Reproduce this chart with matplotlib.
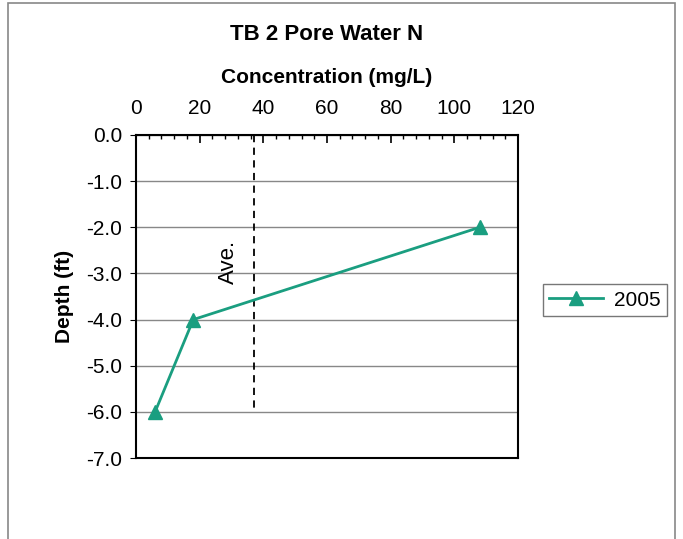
import matplotlib.pyplot as plt
from matplotlib.patches import Rectangle
from matplotlib.ticker import MultipleLocator

# data
conc = [108, 18, 6]
depth = [-2.0, -4.0, -6.0]
ave_conc = 37
ave_depth = [0.0, -6.0]
series_label = '2005'
teal = '#1a9e80'

plt.rcParams['font.family'] = ['Liberation Sans', 'DejaVu Sans']

fig = plt.figure(figsize=(6.83, 5.39), dpi=100)
ax = fig.add_axes([136/683, 1 - 458/539, (518-136)/683, (458-135)/539])

# outer chart border
fig.patches.append(Rectangle((8/683, -0.01), 667/683, 1.005, transform=fig.transFigure,
                             fill=False, edgecolor='#888888', lw=1.2))

for y in range(-7, 1):
    ax.axhline(y, color='#888888', lw=1.0, zorder=1)

ax.plot([ave_conc, ave_conc], ave_depth, color='black', ls=(0, (4, 3)), lw=1.3, zorder=2)
ax.text(29, -2.75, 'Ave.', rotation=90, ha='center', va='center', fontsize=16)

ax.plot(conc, depth, color=teal, lw=2, marker='^', ms=10, label=series_label, zorder=3)

ax.set_xlim(0, 120)
ax.set_ylim(-7, 0)
ax.xaxis.set_ticks_position('top')
ax.xaxis.set_label_position('top')
ax.xaxis.set_major_locator(MultipleLocator(20))
ax.xaxis.set_minor_locator(MultipleLocator(4))
ax.tick_params(axis='x', which='major', direction='in', length=6, width=1.2, labelsize=15, pad=12)
ax.tick_params(axis='x', which='minor', direction='in', length=3, width=1)
ax.set_yticks(range(-7, 1))
ax.set_yticklabels(['%.1f' % v for v in range(-7, 1)])
ax.tick_params(axis='y', direction='out', length=4, labelsize=15, pad=6)
for s in ax.spines.values():
    s.set_linewidth(1.5)

ax.set_xlabel('Concentration (mg/L)', fontsize=15, fontweight='bold', labelpad=12)
ax.set_ylabel('Depth (ft)', fontsize=15, fontweight='bold', labelpad=9)
fig.text(327/683, 1 - 34/539, 'TB 2 Pore Water N', ha='center', va='center',
         fontsize=16, fontweight='bold')

ax.legend(loc='center left', bbox_to_anchor=(543/683, 1 - 300/539),
          bbox_transform=fig.transFigure, frameon=True, fancybox=False,
          edgecolor='#555555', fontsize=15, handlelength=2.6, borderpad=0.3,
          handletextpad=0.5, borderaxespad=0)

fig.savefig('out.png', dpi=100)
